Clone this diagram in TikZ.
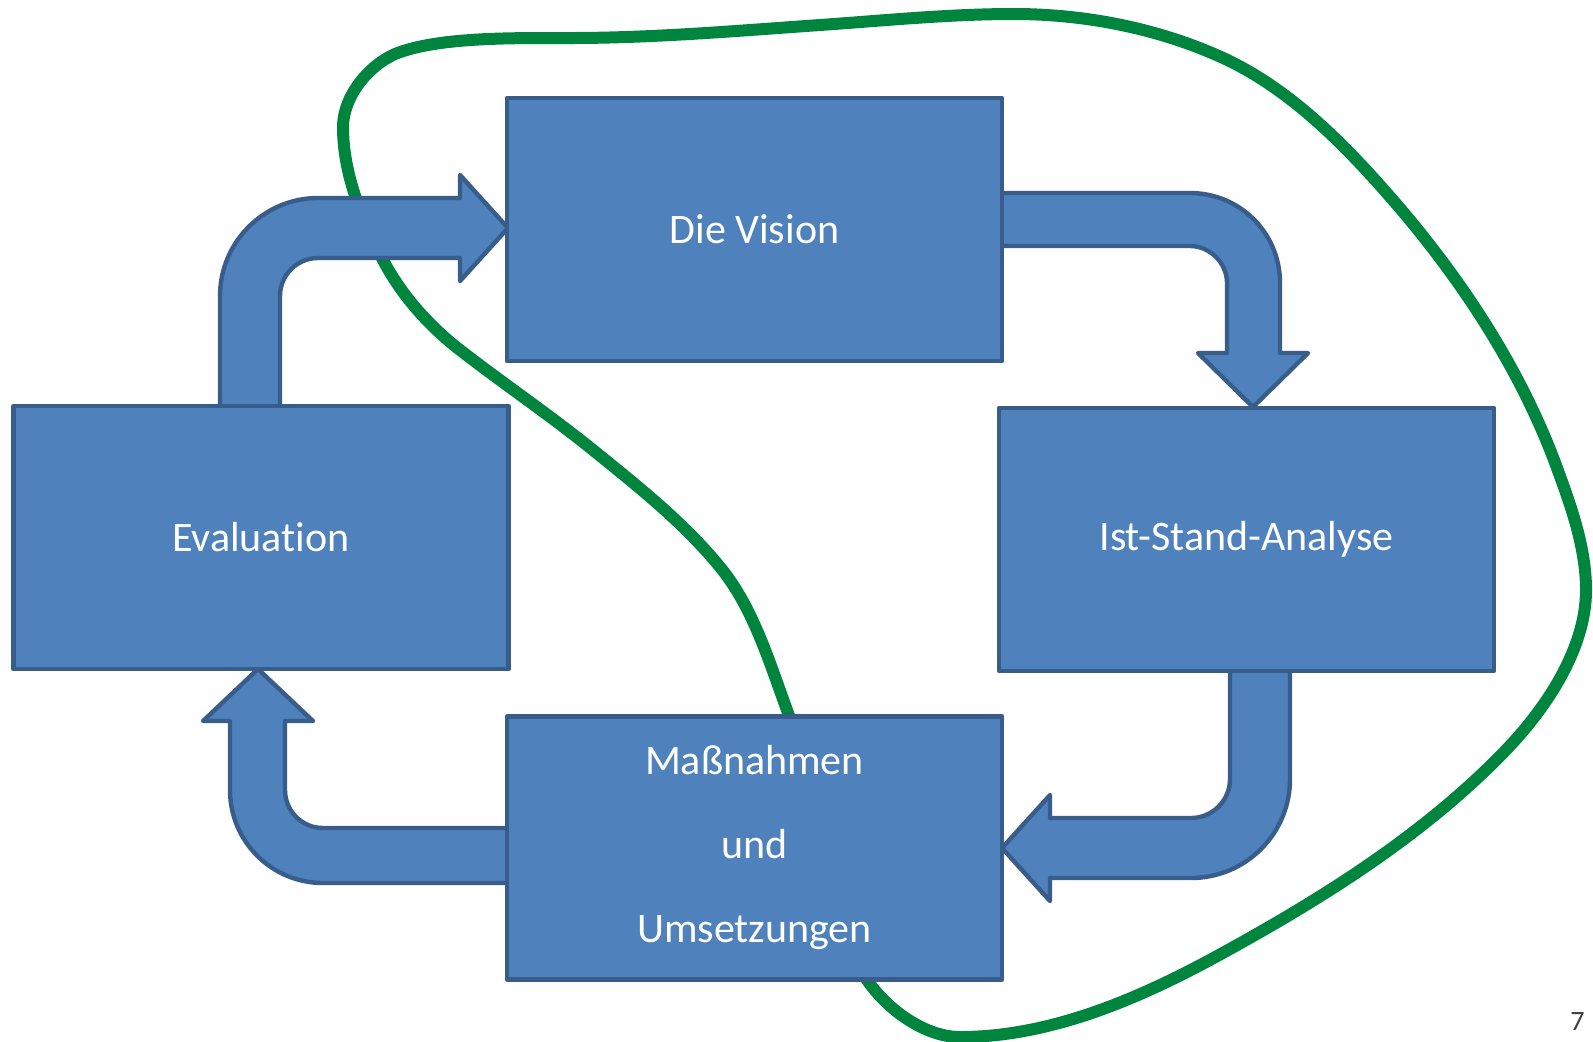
\documentclass[tikz,border=0pt]{standalone}
\usepackage{fontspec}
\setmainfont{Carlito}[Ligatures=NoCommon]
\definecolor{boxfill}{HTML}{4F81BD}
\definecolor{boxline}{HTML}{385D8A}
\definecolor{loopgreen}{HTML}{00853F}
\definecolor{numgray}{HTML}{404040}
\begin{document}
\begin{tikzpicture}[x=0.5pt,y=-0.5pt,
  stage/.style={draw=boxline, fill=boxfill, line width=2.2pt, line join=round, text=white,
    minimum width=247.5pt, minimum height=131.5pt, inner sep=0pt,
    font=\fontsize{21}{42}\selectfont, align=center},
  bentarrow/.style={draw=boxline, fill=boxfill, line width=2.2pt, line join=round},
  greenloop/.style={draw=loopgreen, line width=6pt, line cap=round}]
\useasboundingbox[fill=white] (0,0) rectangle (1593,1041);

% green loop (behind everything)
\coordinate (gs) at (791,721);
\coordinate (ge) at (862,972);
\draw[greenloop] (gs)
 .. controls (769.9,664.6) and (754.5,609.1) .. (720,567)
 .. controls (683.7,522.6) and (637.9,486.3) .. (593,450)
 .. controls (549.7,415.0) and (503.8,383.9) .. (460,350)
 .. controls (428.8,325.9) and (401.2,294.8) .. (383,260)
 .. controls (361.7,219.3) and (343,173.3) .. (343,127)
 .. controls (343,97.1) and (367.7,66.1) .. (395,54)
 .. controls (437,37) and (511.4,38) .. (570,38)
 .. controls (653,38) and (737,30.8) .. (820,25)
 .. controls (884.9,20.5) and (949,14) .. (1014,14)
 .. controls (1084.5,14) and (1156.8,28.1) .. (1221,57)
 .. controls (1293.3,89.6) and (1352,151.9) .. (1404,213)
 .. controls (1468,289.2) and (1523,374.9) .. (1557,468)
 .. controls (1571,506) and (1586,548) .. (1586,590)
 .. controls (1586,648) and (1547,707.8) .. (1504,752)
 .. controls (1422.4,836) and (1321.3,899) .. (1219,955)
 .. controls (1139.5,998.5) and (1050.6,1037) .. (960,1037)
 .. controls (922,1037) and (880.8,1004.7) .. (ge);

% bent block arrows
\path[bentarrow] (220,410) -- (220,296) .. controls (220,242) and (264,198) .. (318,198)
  -- (460,198) -- (460,175) -- (508,228) -- (460,281) -- (460,258) -- (318,258)
  .. controls (297,258) and (280,275) .. (280,296) -- (280,410) -- cycle;
\path[bentarrow] (995,193) -- (1190,193) .. controls (1240,193) and (1280,233) .. (1280,283)
  -- (1280,353) -- (1308,353) -- (1253,407) -- (1198,353) -- (1227,353) -- (1227,283)
  .. controls (1227,263) and (1210,246) .. (1190,246) -- (995,246) -- cycle;
\path[bentarrow] (1230,666) -- (1230,779) .. controls (1230,800.5) and (1212.5,818) .. (1191,818)
  -- (1050,818) -- (1050,795) -- (1002,848) -- (1050,901) -- (1050,878) -- (1191,878)
  .. controls (1245.7,878) and (1290,833.7) .. (1290,779) -- (1290,666) -- cycle;
\path[bentarrow] (512,828) -- (323,828) .. controls (302,828) and (285,811) .. (285,790)
  -- (285,721) -- (313,721) -- (258,669) -- (203,721) -- (230,721) -- (230,790)
  .. controls (230,841.4) and (271.6,883) .. (323,883) -- (512,883) -- cycle;

% stages
\node[stage] (vision) at (754.5,229.5) {Die Vision};
\node[stage] (eval) at (261,537.5) {Evaluation};
\node[stage] (ist) at (1246.5,539.5) {Ist-Stand-Analyse};
\node[stage] (mass) at (754.5,848) {Maßnahmen\\und\\Umsetzungen};

% slide number
\node[anchor=north west, inner sep=0pt, text=numgray, font=\fontsize{14}{16}\selectfont] (num) at (1570,1012) {7};
\end{tikzpicture}
\end{document}
